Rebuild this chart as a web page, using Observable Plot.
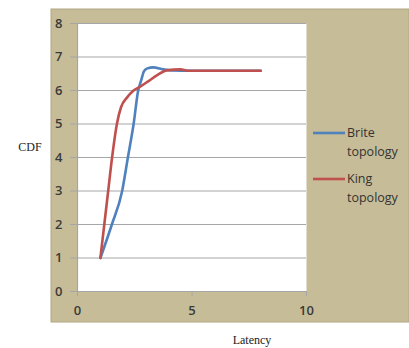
<!DOCTYPE html>
<html>
<head>
<meta charset="utf-8">
<script src="https://cdn.jsdelivr.net/npm/d3@7"></script>
<script src="https://cdn.jsdelivr.net/npm/@observablehq/plot@0.6"></script>
<style>
  html, body { margin: 0; padding: 0; background: #ffffff; }
</style>
</head>
<body>
<div id="chart"></div>
<script>
const seriesNames = ["Brite topology", "King topology"];
const briteX = [1, 1.5, 1.95, 2.2, 2.45, 2.65, 2.78, 2.9, 3.05, 3.3, 3.75, 4.1, 5, 8];
const briteY = [1, 2, 3, 4, 5, 6, 6.3, 6.57, 6.66, 6.69, 6.63, 6.6, 6.59, 6.59];
const kingX = [1, 1.17, 1.34, 1.51, 1.72, 1.9, 2.15, 2.45, 2.75, 3.1, 3.5, 3.9, 4.5, 4.8, 8];
const kingY = [1, 2, 3, 4, 5, 5.5, 5.78, 6.0, 6.12, 6.28, 6.47, 6.6, 6.63, 6.59, 6.59];
const xTicks = [0, 5, 10];
const yTicks = [0, 1, 2, 3, 4, 5, 6, 7, 8];
const colors = ["#4f81bd", "#c0504d"];

const data = [
  ...briteX.map((x, i) => ({series: seriesNames[0], x, y: briteY[i]})),
  ...kingX.map((x, i) => ({series: seriesNames[1], x, y: kingY[i]}))
];

const W = 409, H = 348;
const chart = Plot.plot({
  width: W,
  height: H,
  marginLeft: 77,
  marginRight: 103,
  marginTop: 23,
  marginBottom: 57,
  style: {background: "transparent", fontFamily: "'Open Sans', sans-serif", fontSize: "13px", color: "#404040"},
  x: {domain: [0, 10], ticks: xTicks, label: null},
  y: {domain: [0, 8], ticks: yTicks, label: null},
  color: {domain: seriesNames, range: colors},
  marks: [
    Plot.frame({fill: "#ffffff", stroke: null}),
    Plot.gridY(yTicks, {stroke: "#a6a6a6", strokeOpacity: 1, strokeWidth: 1.2}),
    Plot.axisY({ticks: yTicks, tickSize: 7, tickPadding: 8, stroke: "#a6a6a6", strokeOpacity: 1, fill: "#3a3a3a", fontWeight: 600, label: null}),
    Plot.axisX({ticks: xTicks, tickSize: 5, tickPadding: 9, stroke: "#a6a6a6", strokeOpacity: 1, fill: "#3a3a3a", fontWeight: 600, label: null}),
    Plot.ruleX([0], {stroke: "#a6a6a6", strokeWidth: 1.2}),
    Plot.ruleY([0], {stroke: "#a6a6a6", strokeWidth: 1.2}),
    Plot.line(data, {x: "x", y: "y", z: "series", stroke: "series", strokeWidth: 2.6, curve: "monotone-x"})
  ]
});

const svg = d3.select(chart);
// Tan chart panel behind everything
svg.insert("rect", ":first-child")
  .attr("x", 51).attr("y", 9).attr("width", W - 51).attr("height", 313)
  .attr("fill", "#c6bd98").attr("stroke", "#b0a882");

// Axis titles
svg.append("text").attr("x", 30).attr("y", 151).attr("text-anchor", "middle")
  .attr("font-family", "'Liberation Serif', serif").attr("font-size", 12).attr("fill", "#222")
  .text("CDF");
svg.append("text").attr("x", 252).attr("y", 344).attr("text-anchor", "middle")
  .attr("font-family", "'Liberation Serif', serif").attr("font-size", 12).attr("fill", "#222")
  .text("Latency");

// Legend
const leg = svg.append("g").attr("font-family", "'Open Sans', sans-serif").attr("font-size", 12.5)
  .attr("fill", "#333").attr("text-anchor", "start");
const legY = [133, 179];
seriesNames.forEach((name, i) => {
  const [a, b] = name.split(" ");
  leg.append("line").attr("x1", 313).attr("x2", 345).attr("y1", legY[i]).attr("y2", legY[i])
    .attr("stroke", colors[i]).attr("stroke-width", 2.6);
  leg.append("text").attr("x", 347).attr("y", legY[i] + 4).text(a);
  leg.append("text").attr("x", 347).attr("y", legY[i] + 23).text(b);
});

document.getElementById("chart").appendChild(chart);
</script>
</body>
</html>
